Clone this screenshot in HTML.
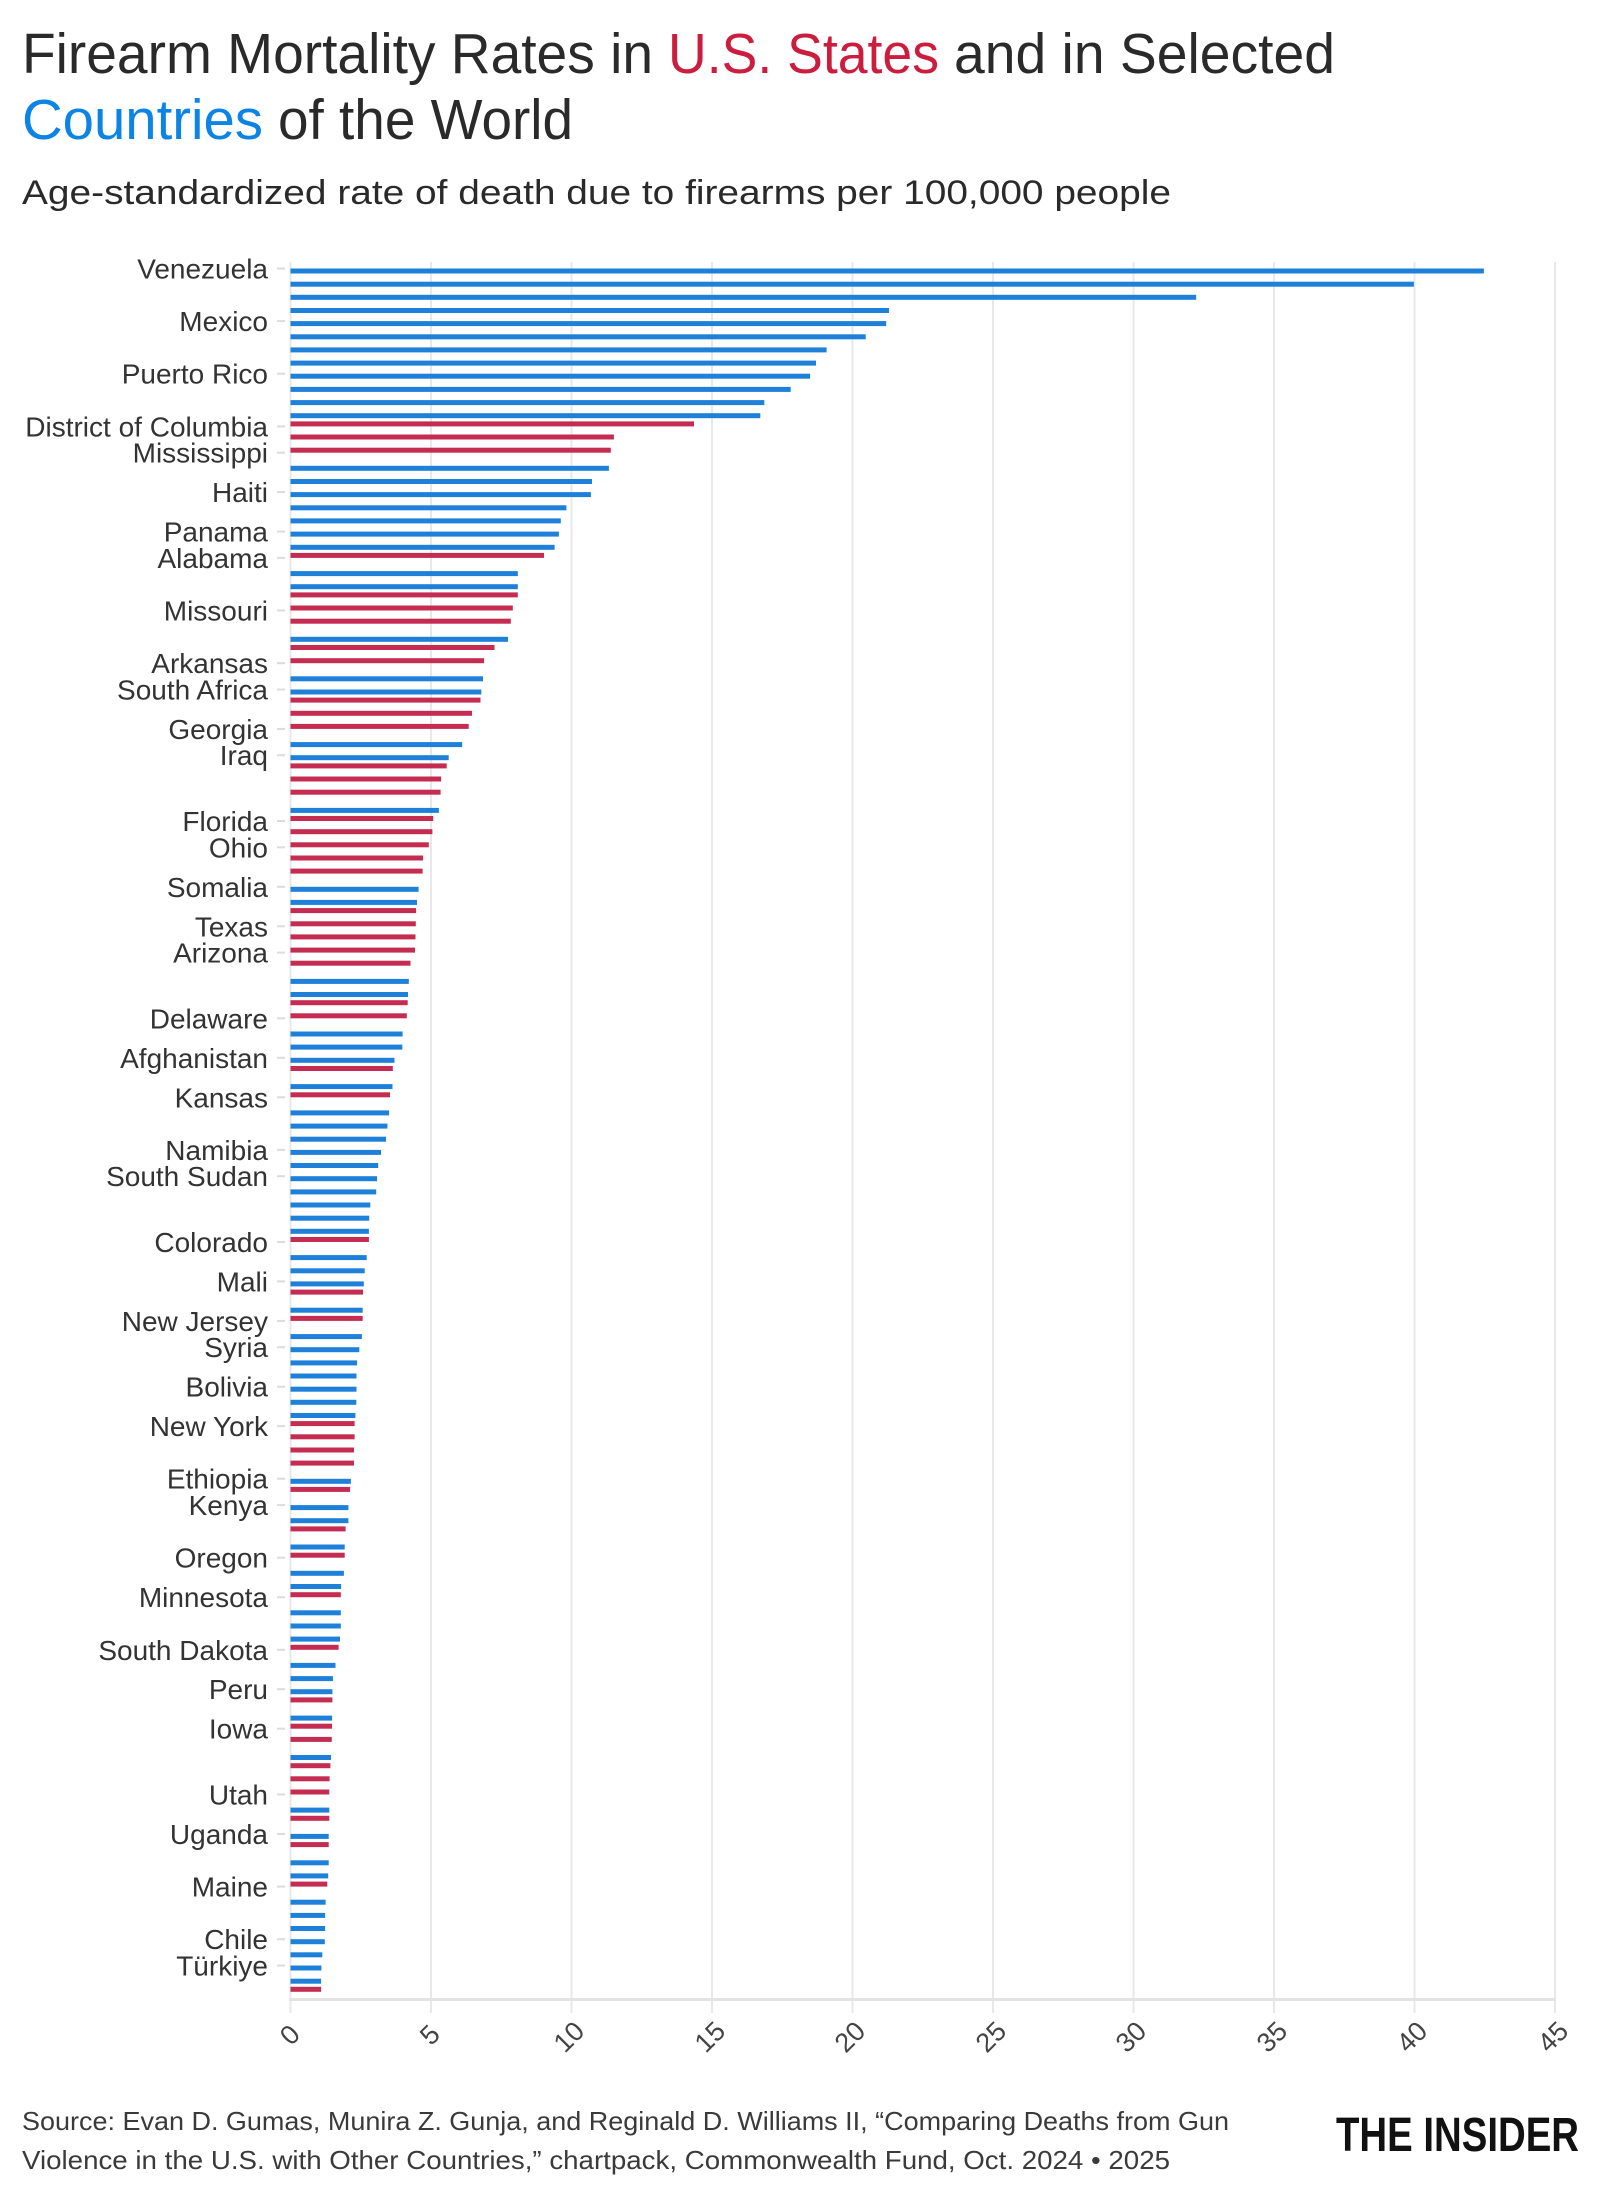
<!DOCTYPE html>
<html>
<head>
<meta charset="utf-8">
<style>
html,body{margin:0;padding:0;background:#fff;}
svg{display:block;}
text{font-family:"Liberation Sans", "DejaVu Sans", sans-serif;}
</style>
</head>
<body>
<svg width="1600" height="2200" viewBox="0 0 1600 2200" xmlns="http://www.w3.org/2000/svg">
<rect x="0" y="0" width="1600" height="2200" fill="#fff"/>

<!-- Title -->
<text x="22" y="73" font-size="57" fill="#2a2a2a" textLength="631" lengthAdjust="spacingAndGlyphs">Firearm Mortality Rates in</text>
<text x="668" y="73" font-size="57" fill="#cc1d3e" textLength="271" lengthAdjust="spacingAndGlyphs">U.S. States</text>
<text x="954" y="73" font-size="57" fill="#2a2a2a" textLength="381" lengthAdjust="spacingAndGlyphs">and in Selected</text>
<text x="22" y="139" font-size="57" fill="#0b84e6" textLength="241" lengthAdjust="spacingAndGlyphs">Countries</text>
<text x="278" y="139" font-size="57" fill="#2a2a2a" textLength="295" lengthAdjust="spacingAndGlyphs">of the World</text>
<text x="22" y="204" font-size="34" fill="#2a2a2a" textLength="1149" lengthAdjust="spacingAndGlyphs">Age-standardized rate of death due to firearms per 100,000 people</text>

<!-- Gridlines -->
<g stroke="#e8e8e8" stroke-width="2">
<line x1="290.5" y1="262" x2="290.5" y2="2013"/>
<line x1="431" y1="262" x2="431" y2="2013"/>
<line x1="571.5" y1="262" x2="571.5" y2="2013"/>
<line x1="712" y1="262" x2="712" y2="2013"/>
<line x1="852.5" y1="262" x2="852.5" y2="2013"/>
<line x1="993" y1="262" x2="993" y2="2013"/>
<line x1="1133.5" y1="262" x2="1133.5" y2="2013"/>
<line x1="1274" y1="262" x2="1274" y2="2013"/>
<line x1="1414.5" y1="262" x2="1414.5" y2="2013"/>
<line x1="1555" y1="262" x2="1555" y2="2013"/>
</g>
<line x1="289" y1="1999.5" x2="1556" y2="1999.5" stroke="#e3e3e3" stroke-width="3"/>

<!-- Bars -->
<g transform="translate(290.5,268.2)">
<g fill="#1e80d8">
<rect x="0" y="0.3" width="1193.4" height="5"/>
<rect x="0" y="13.5" width="1123.4" height="5"/>
<rect x="0" y="26.6" width="905.7" height="5"/>
<rect x="0" y="39.8" width="598.5" height="5"/>
<rect x="0" y="52.9" width="595.7" height="5"/>
<rect x="0" y="66.1" width="575.2" height="5"/>
<rect x="0" y="79.2" width="536.1" height="5"/>
<rect x="0" y="92.4" width="525.5" height="5"/>
<rect x="0" y="105.5" width="519.6" height="5"/>
<rect x="0" y="118.7" width="500.2" height="5"/>
<rect x="0" y="131.9" width="473.8" height="5"/>
<rect x="0" y="145.0" width="469.8" height="5"/>
<rect x="0" y="197.6" width="318.4" height="5"/>
<rect x="0" y="210.8" width="301.5" height="5"/>
<rect x="0" y="223.9" width="300.4" height="5"/>
<rect x="0" y="237.1" width="275.9" height="5"/>
<rect x="0" y="250.2" width="270.3" height="5"/>
<rect x="0" y="263.4" width="268.4" height="5"/>
<rect x="0" y="276.6" width="264.1" height="5"/>
<rect x="0" y="302.9" width="227.3" height="5"/>
<rect x="0" y="316.0" width="227.3" height="5"/>
<rect x="0" y="368.6" width="217.5" height="5"/>
<rect x="0" y="408.1" width="192.5" height="5"/>
<rect x="0" y="421.3" width="190.8" height="5"/>
<rect x="0" y="473.9" width="171.7" height="5"/>
<rect x="0" y="487.0" width="158.2" height="5"/>
<rect x="0" y="539.7" width="148.4" height="5"/>
<rect x="0" y="618.6" width="128.1" height="5"/>
<rect x="0" y="631.7" width="126.5" height="5"/>
<rect x="0" y="710.7" width="118.3" height="5"/>
<rect x="0" y="723.8" width="117.5" height="5"/>
<rect x="0" y="763.3" width="112.1" height="5"/>
<rect x="0" y="776.4" width="111.8" height="5"/>
<rect x="0" y="789.6" width="104.0" height="5"/>
<rect x="0" y="815.9" width="102.0" height="5"/>
<rect x="0" y="842.2" width="98.6" height="5"/>
<rect x="0" y="855.4" width="96.9" height="5"/>
<rect x="0" y="868.5" width="95.5" height="5"/>
<rect x="0" y="881.7" width="90.5" height="5"/>
<rect x="0" y="894.8" width="87.7" height="5"/>
<rect x="0" y="908.0" width="86.5" height="5"/>
<rect x="0" y="921.2" width="85.7" height="5"/>
<rect x="0" y="934.3" width="79.8" height="5"/>
<rect x="0" y="947.5" width="78.7" height="5"/>
<rect x="0" y="960.6" width="78.4" height="5"/>
<rect x="0" y="986.9" width="76.2" height="5"/>
<rect x="0" y="1000.1" width="74.2" height="5"/>
<rect x="0" y="1013.2" width="73.3" height="5"/>
<rect x="0" y="1039.5" width="72.2" height="5"/>
<rect x="0" y="1065.9" width="71.4" height="5"/>
<rect x="0" y="1079.0" width="68.8" height="5"/>
<rect x="0" y="1092.2" width="66.6" height="5"/>
<rect x="0" y="1105.3" width="66.0" height="5"/>
<rect x="0" y="1118.5" width="66.0" height="5"/>
<rect x="0" y="1131.6" width="65.8" height="5"/>
<rect x="0" y="1144.8" width="64.9" height="5"/>
<rect x="0" y="1210.6" width="60.4" height="5"/>
<rect x="0" y="1236.9" width="57.9" height="5"/>
<rect x="0" y="1250.0" width="57.9" height="5"/>
<rect x="0" y="1276.3" width="54.2" height="5"/>
<rect x="0" y="1302.6" width="53.4" height="5"/>
<rect x="0" y="1315.8" width="50.6" height="5"/>
<rect x="0" y="1342.1" width="50.3" height="5"/>
<rect x="0" y="1355.3" width="50.3" height="5"/>
<rect x="0" y="1368.4" width="49.5" height="5"/>
<rect x="0" y="1394.7" width="45.0" height="5"/>
<rect x="0" y="1407.9" width="42.4" height="5"/>
<rect x="0" y="1421.0" width="41.9" height="5"/>
<rect x="0" y="1447.4" width="41.6" height="5"/>
<rect x="0" y="1486.8" width="40.5" height="5"/>
<rect x="0" y="1539.4" width="38.8" height="5"/>
<rect x="0" y="1565.7" width="38.2" height="5"/>
<rect x="0" y="1592.1" width="38.2" height="5"/>
<rect x="0" y="1605.2" width="37.7" height="5"/>
<rect x="0" y="1631.5" width="35.1" height="5"/>
<rect x="0" y="1644.7" width="34.6" height="5"/>
<rect x="0" y="1657.8" width="34.6" height="5"/>
<rect x="0" y="1671.0" width="34.3" height="5"/>
<rect x="0" y="1684.1" width="31.8" height="5"/>
<rect x="0" y="1697.3" width="30.9" height="5"/>
<rect x="0" y="1710.5" width="30.6" height="5"/>
</g>
<g fill="#c42c52">
<rect x="0" y="153.2" width="403.5" height="5"/>
<rect x="0" y="166.3" width="323.4" height="5"/>
<rect x="0" y="179.5" width="320.3" height="5"/>
<rect x="0" y="284.7" width="253.5" height="5"/>
<rect x="0" y="324.2" width="227.3" height="5"/>
<rect x="0" y="337.3" width="222.3" height="5"/>
<rect x="0" y="350.5" width="220.3" height="5"/>
<rect x="0" y="376.8" width="204.0" height="5"/>
<rect x="0" y="390.0" width="193.6" height="5"/>
<rect x="0" y="429.4" width="190.0" height="5"/>
<rect x="0" y="442.6" width="181.5" height="5"/>
<rect x="0" y="455.7" width="178.2" height="5"/>
<rect x="0" y="495.2" width="156.2" height="5"/>
<rect x="0" y="508.3" width="150.6" height="5"/>
<rect x="0" y="521.5" width="150.1" height="5"/>
<rect x="0" y="547.8" width="142.7" height="5"/>
<rect x="0" y="561.0" width="141.9" height="5"/>
<rect x="0" y="574.1" width="138.3" height="5"/>
<rect x="0" y="587.3" width="132.6" height="5"/>
<rect x="0" y="600.4" width="132.1" height="5"/>
<rect x="0" y="639.9" width="125.6" height="5"/>
<rect x="0" y="653.1" width="125.3" height="5"/>
<rect x="0" y="666.2" width="125.0" height="5"/>
<rect x="0" y="679.4" width="124.5" height="5"/>
<rect x="0" y="692.5" width="120.0" height="5"/>
<rect x="0" y="732.0" width="117.2" height="5"/>
<rect x="0" y="745.1" width="116.3" height="5"/>
<rect x="0" y="797.8" width="102.3" height="5"/>
<rect x="0" y="824.1" width="99.5" height="5"/>
<rect x="0" y="968.8" width="78.4" height="5"/>
<rect x="0" y="1021.4" width="72.5" height="5"/>
<rect x="0" y="1047.7" width="72.2" height="5"/>
<rect x="0" y="1152.9" width="64.1" height="5"/>
<rect x="0" y="1166.1" width="64.1" height="5"/>
<rect x="0" y="1179.3" width="63.5" height="5"/>
<rect x="0" y="1192.4" width="63.5" height="5"/>
<rect x="0" y="1218.7" width="59.6" height="5"/>
<rect x="0" y="1258.2" width="55.1" height="5"/>
<rect x="0" y="1284.5" width="54.2" height="5"/>
<rect x="0" y="1324.0" width="50.3" height="5"/>
<rect x="0" y="1376.6" width="48.1" height="5"/>
<rect x="0" y="1429.2" width="41.9" height="5"/>
<rect x="0" y="1455.5" width="41.6" height="5"/>
<rect x="0" y="1468.7" width="41.3" height="5"/>
<rect x="0" y="1495.0" width="39.9" height="5"/>
<rect x="0" y="1508.1" width="39.1" height="5"/>
<rect x="0" y="1521.3" width="38.8" height="5"/>
<rect x="0" y="1547.6" width="38.8" height="5"/>
<rect x="0" y="1573.9" width="38.2" height="5"/>
<rect x="0" y="1613.4" width="36.8" height="5"/>
<rect x="0" y="1718.6" width="30.6" height="5"/>
</g>
</g>

<!-- Category ticks -->
<g stroke="#dcdcdc" stroke-width="2">
<line x1="277" y1="268.5" x2="285" y2="268.5"/>
<line x1="277" y1="321.1" x2="285" y2="321.1"/>
<line x1="277" y1="373.7" x2="285" y2="373.7"/>
<line x1="277" y1="426.4" x2="285" y2="426.4"/>
<line x1="277" y1="452.7" x2="285" y2="452.7"/>
<line x1="277" y1="492.1" x2="285" y2="492.1"/>
<line x1="277" y1="531.6" x2="285" y2="531.6"/>
<line x1="277" y1="557.9" x2="285" y2="557.9"/>
<line x1="277" y1="610.5" x2="285" y2="610.5"/>
<line x1="277" y1="663.2" x2="285" y2="663.2"/>
<line x1="277" y1="689.5" x2="285" y2="689.5"/>
<line x1="277" y1="728.9" x2="285" y2="728.9"/>
<line x1="277" y1="755.2" x2="285" y2="755.2"/>
<line x1="277" y1="821.0" x2="285" y2="821.0"/>
<line x1="277" y1="847.3" x2="285" y2="847.3"/>
<line x1="277" y1="886.8" x2="285" y2="886.8"/>
<line x1="277" y1="926.3" x2="285" y2="926.3"/>
<line x1="277" y1="952.6" x2="285" y2="952.6"/>
<line x1="277" y1="1018.3" x2="285" y2="1018.3"/>
<line x1="277" y1="1057.8" x2="285" y2="1057.8"/>
<line x1="277" y1="1097.3" x2="285" y2="1097.3"/>
<line x1="277" y1="1149.9" x2="285" y2="1149.9"/>
<line x1="277" y1="1176.2" x2="285" y2="1176.2"/>
<line x1="277" y1="1242.0" x2="285" y2="1242.0"/>
<line x1="277" y1="1281.4" x2="285" y2="1281.4"/>
<line x1="277" y1="1320.9" x2="285" y2="1320.9"/>
<line x1="277" y1="1347.2" x2="285" y2="1347.2"/>
<line x1="277" y1="1386.7" x2="285" y2="1386.7"/>
<line x1="277" y1="1426.1" x2="285" y2="1426.1"/>
<line x1="277" y1="1478.7" x2="285" y2="1478.7"/>
<line x1="277" y1="1505.1" x2="285" y2="1505.1"/>
<line x1="277" y1="1557.7" x2="285" y2="1557.7"/>
<line x1="277" y1="1597.2" x2="285" y2="1597.2"/>
<line x1="277" y1="1649.8" x2="285" y2="1649.8"/>
<line x1="277" y1="1689.2" x2="285" y2="1689.2"/>
<line x1="277" y1="1728.7" x2="285" y2="1728.7"/>
<line x1="277" y1="1794.5" x2="285" y2="1794.5"/>
<line x1="277" y1="1834.0" x2="285" y2="1834.0"/>
<line x1="277" y1="1886.6" x2="285" y2="1886.6"/>
<line x1="277" y1="1939.2" x2="285" y2="1939.2"/>
<line x1="277" y1="1965.5" x2="285" y2="1965.5"/>
</g>

<!-- Category labels -->
<g font-size="28" fill="#333" text-anchor="end">
<text x="268" y="278.5">Venezuela</text>
<text x="268" y="331.1">Mexico</text>
<text x="268" y="383.7">Puerto Rico</text>
<text x="268" y="436.4">District of Columbia</text>
<text x="268" y="462.7">Mississippi</text>
<text x="268" y="502.1">Haiti</text>
<text x="268" y="541.6">Panama</text>
<text x="268" y="567.9">Alabama</text>
<text x="268" y="620.5">Missouri</text>
<text x="268" y="673.2">Arkansas</text>
<text x="268" y="699.5">South Africa</text>
<text x="268" y="738.9">Georgia</text>
<text x="268" y="765.2">Iraq</text>
<text x="268" y="831.0">Florida</text>
<text x="268" y="857.3">Ohio</text>
<text x="268" y="896.8">Somalia</text>
<text x="268" y="936.3">Texas</text>
<text x="268" y="962.6">Arizona</text>
<text x="268" y="1028.3">Delaware</text>
<text x="268" y="1067.8">Afghanistan</text>
<text x="268" y="1107.3">Kansas</text>
<text x="268" y="1159.9">Namibia</text>
<text x="268" y="1186.2">South Sudan</text>
<text x="268" y="1252.0">Colorado</text>
<text x="268" y="1291.4">Mali</text>
<text x="268" y="1330.9">New Jersey</text>
<text x="268" y="1357.2">Syria</text>
<text x="268" y="1396.7">Bolivia</text>
<text x="268" y="1436.1">New York</text>
<text x="268" y="1488.7">Ethiopia</text>
<text x="268" y="1515.1">Kenya</text>
<text x="268" y="1567.7">Oregon</text>
<text x="268" y="1607.2">Minnesota</text>
<text x="268" y="1659.8">South Dakota</text>
<text x="268" y="1699.2">Peru</text>
<text x="268" y="1738.7">Iowa</text>
<text x="268" y="1804.5">Utah</text>
<text x="268" y="1844.0">Uganda</text>
<text x="268" y="1896.6">Maine</text>
<text x="268" y="1949.2">Chile</text>
<text x="268" y="1975.5">Türkiye</text>
</g>

<!-- X tick labels -->
<g font-size="27" fill="#444" text-anchor="middle">
<text x="290" y="2044" transform="rotate(-45 290 2035)">0</text>
<text x="430" y="2044" transform="rotate(-45 430 2035)">5</text>
<text x="569" y="2046" transform="rotate(-45 569 2037)">10</text>
<text x="710" y="2046" transform="rotate(-45 710 2037)">15</text>
<text x="850" y="2046" transform="rotate(-45 850 2037)">20</text>
<text x="991" y="2046" transform="rotate(-45 991 2037)">25</text>
<text x="1131" y="2046" transform="rotate(-45 1131 2037)">30</text>
<text x="1272" y="2046" transform="rotate(-45 1272 2037)">35</text>
<text x="1412" y="2046" transform="rotate(-45 1412 2037)">40</text>
<text x="1553" y="2046" transform="rotate(-45 1553 2037)">45</text>
</g>

<!-- Footer -->
<text x="22" y="2130" font-size="26" fill="#3a3a3a" textLength="1207" lengthAdjust="spacingAndGlyphs">Source: Evan D. Gumas, Munira Z. Gunja, and Reginald D. Williams II, “Comparing Deaths from Gun</text>
<text x="22" y="2169" font-size="26" fill="#3a3a3a" textLength="1148" lengthAdjust="spacingAndGlyphs">Violence in the U.S. with Other Countries,” chartpack, Commonwealth Fund, Oct. 2024 • 2025</text>
<text x="1336" y="2151" font-size="48" font-weight="bold" fill="#111" textLength="243" lengthAdjust="spacingAndGlyphs">THE INSIDER</text>
</svg>
</body>
</html>
